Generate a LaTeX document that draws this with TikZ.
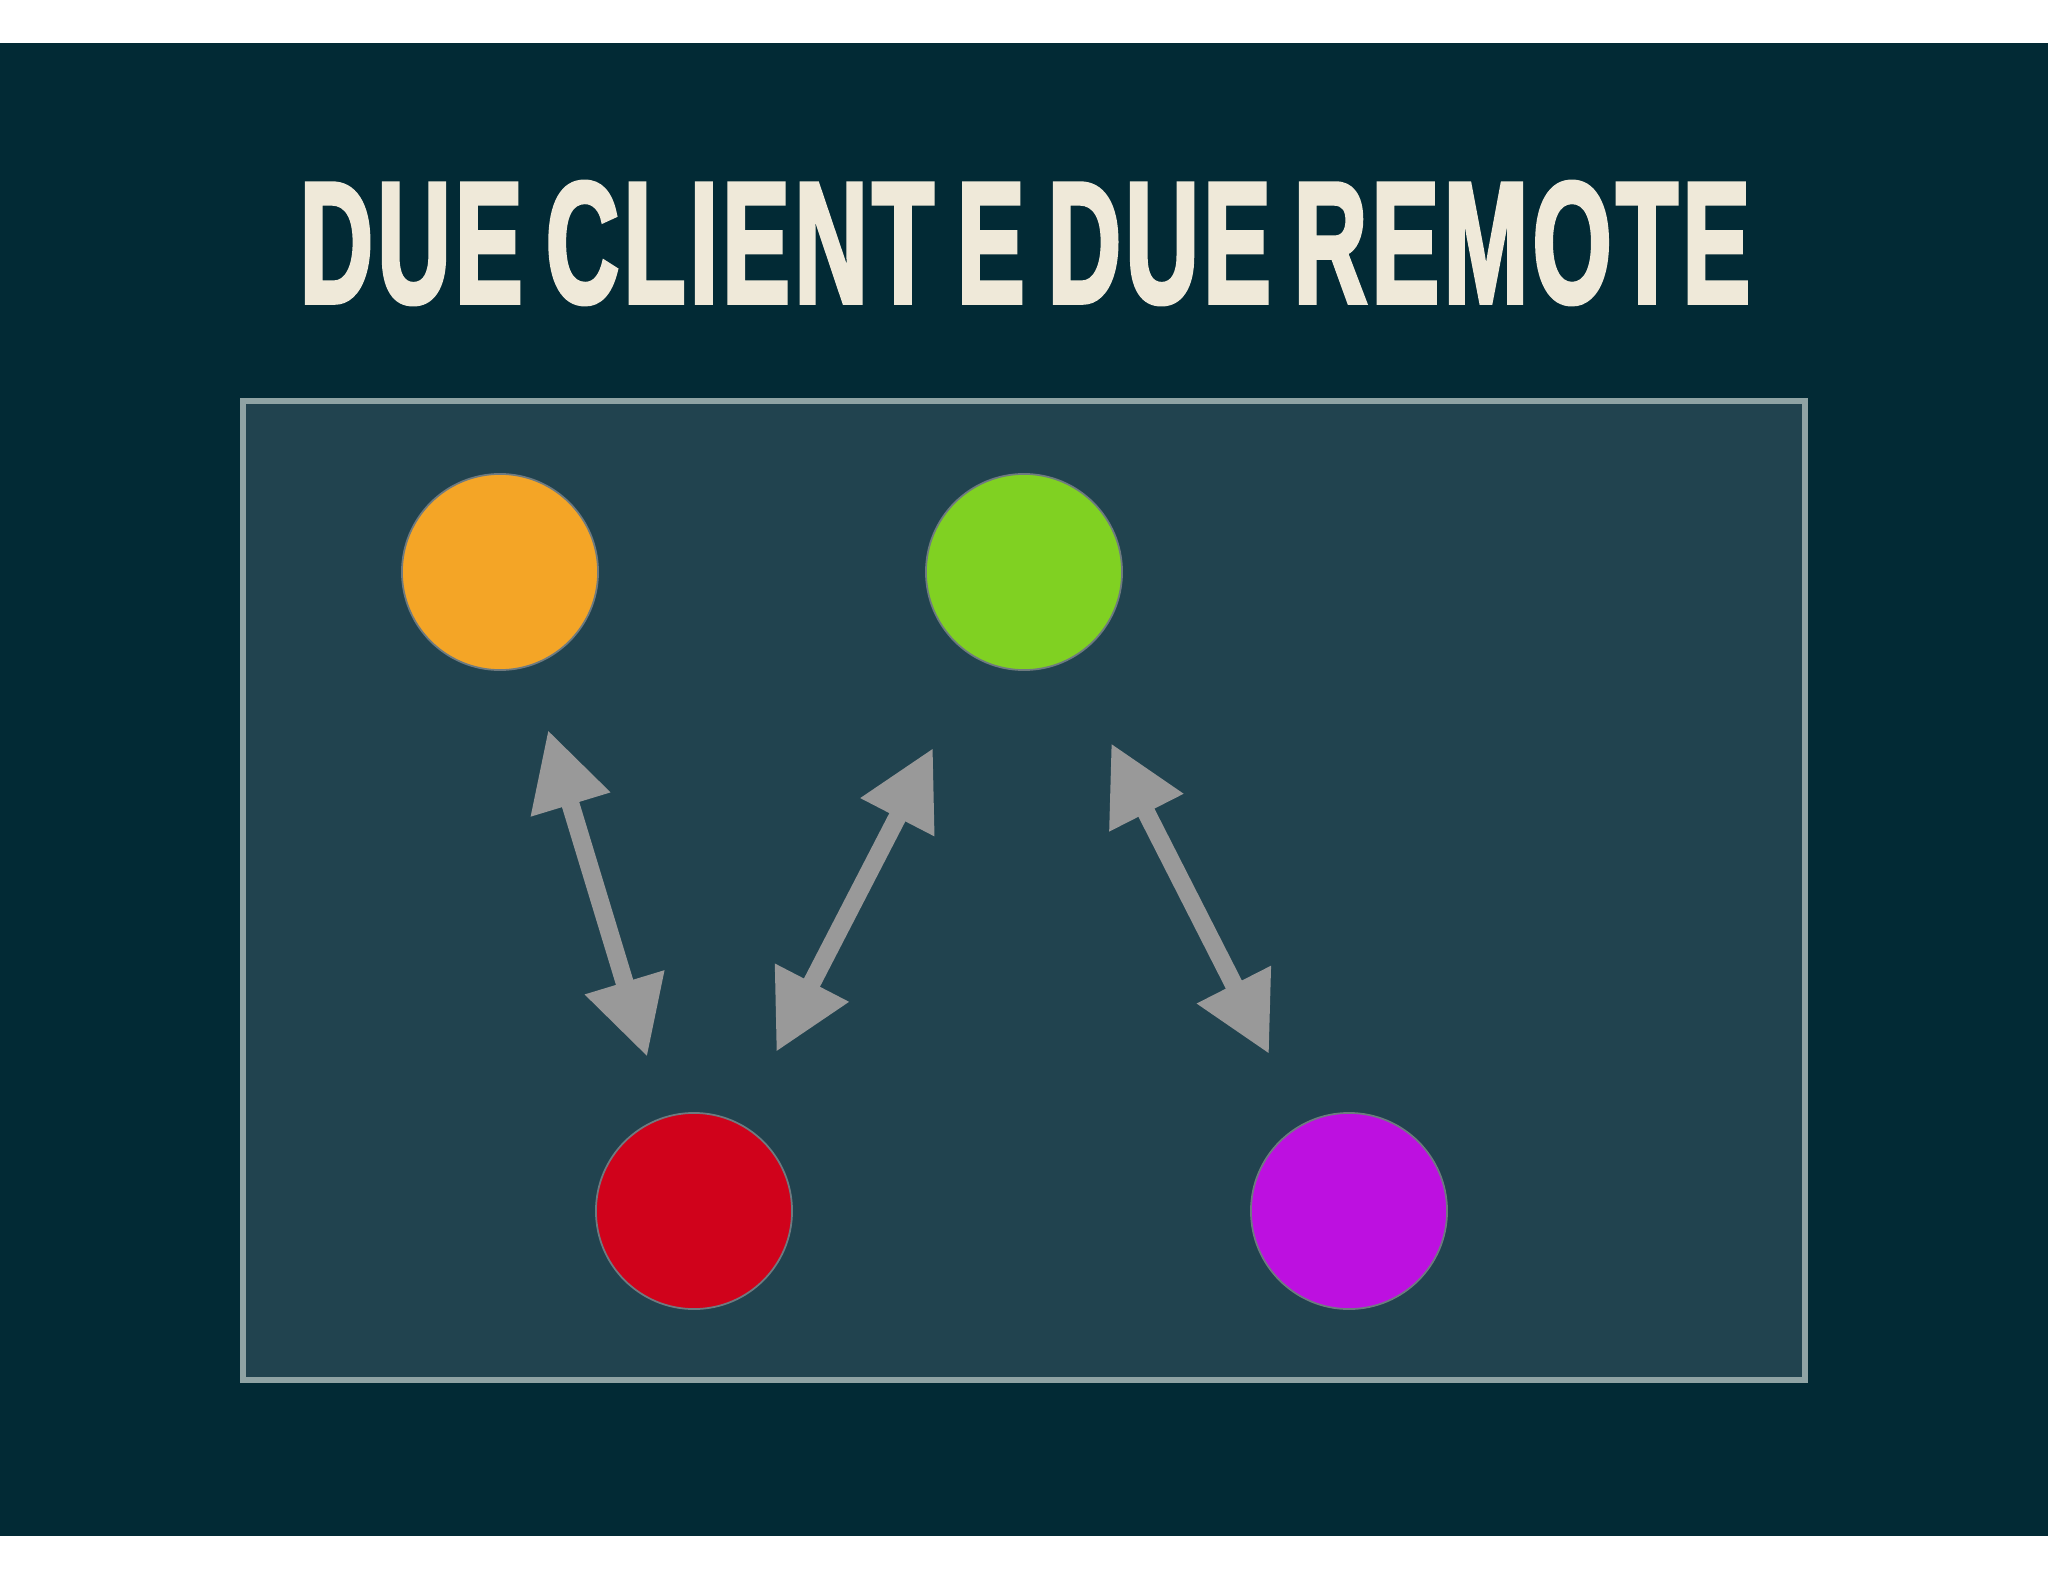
\documentclass[tikz,border=0pt]{standalone}
\usepackage{fontspec}
\setmainfont{Liberation Sans}
\newfontfamily\titlefont[FakeBold=3,LetterSpace=4,WordSpace=0.7]{Liberation Sans Bold}
\usetikzlibrary{arrows.meta}
\definecolor{bgdark}{HTML}{022A35}
\definecolor{panel}{HTML}{21434F}
\definecolor{panelrim}{HTML}{8FA3A4}
\definecolor{titlecream}{HTML}{EFE9D9}
\definecolor{ballrim}{HTML}{6E7A80}
\definecolor{linkgray}{HTML}{999999}
\definecolor{orangeball}{HTML}{F4A526}
\definecolor{greenball}{HTML}{80D122}
\definecolor{redball}{HTML}{D0021B}
\definecolor{purpleball}{HTML}{BD10E0}
\tikzset{
  ball/.style={circle,minimum size=1.96cm,inner sep=0pt,draw=ballrim,line width=0.5pt},
  link/.style={draw=linkgray,line width=0.18cm,{Triangle[length=0.78cm,width=0.78cm]}-{Triangle[length=0.78cm,width=0.78cm]}}
}
\begin{document}
\begin{tikzpicture}[x=0.01cm,y=-0.01cm]
\useasboundingbox (0,0) rectangle (2048,1582);
\fill[white] (0,0) rectangle (2048,1582);
\fill[bgdark] (0,43) rectangle (2048,1536);
\draw[fill=panel,draw=panelrim,line width=0.06cm] (243,401) rectangle (1805,1380);

\node[text=titlecream,inner sep=0pt] (title) at (1025,243) {\resizebox{14.5cm}{1.2cm}{\titlefont DUE CLIENT E DUE REMOTE}};

\node[ball,fill=orangeball] (orange) at (500,572) {};
\node[ball,fill=greenball] (green) at (1024,572) {};
\node[ball,fill=redball] (red) at (694,1211) {};
\node[ball,fill=purpleball] (purple) at (1349,1211) {};

\draw[link,shorten <=0.66cm,shorten >=0.62cm] (orange) -- (red);
\draw[link,shorten <=0.99cm,shorten >=0.8cm] (green) -- (red);
\draw[link,shorten <=0.93cm,shorten >=0.77cm] (green) -- (purple);

\end{tikzpicture}
\end{document}
